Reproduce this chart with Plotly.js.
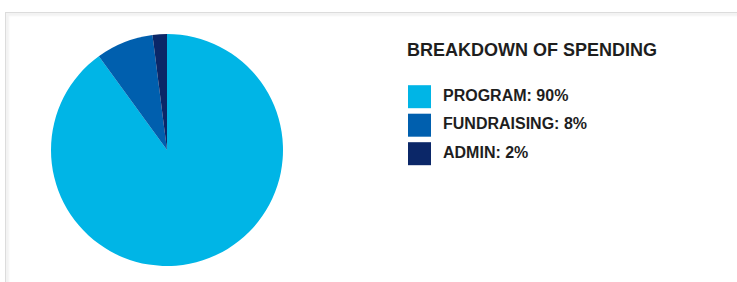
<!DOCTYPE html>
<html>
<head>
<meta charset="utf-8">
<script src="https://cdn.plot.ly/plotly-3.0.1.min.js"></script>
<style>
  html, body { margin: 0; padding: 0; background: #fff; }
  #wrap { position: relative; width: 737px; height: 282px; overflow: hidden; }
  #card { position: absolute; left: 5px; top: 12px; width: 760px; height: 300px;
          border: 1px solid #dcdcdc; box-shadow: inset 3px 3px 2px #f3f3f3; }
  #chart { position: absolute; left: 0; top: 0; width: 737px; height: 282px; }
</style>
</head>
<body>
<div id="wrap">
  <div id="card"></div>
  <div id="chart"></div>
</div>
<script>
const categories = ["PROGRAM", "FUNDRAISING", "ADMIN"];
const percents = [90, 8, 2];
const colors = ["#00b5e6", "#005fae", "#0b2768"];
const chartTitle = "BREAKDOWN OF SPENDING";

const labels = categories.map((c, i) => c + ": " + percents[i] + "%");
const idx = categories.map((c, i) => i);

const W = 737, H = 282;
const cx = 167, cy = 150, r = 116;

const pie = {
  type: "pie",
  values: percents,
  labels: categories,
  marker: { colors: colors, line: { width: 0 } },
  sort: false,
  direction: "clockwise",
  rotation: 0,
  textinfo: "none",
  hoverinfo: "label+percent",
  showlegend: false,
  domain: { x: [(cx - r) / W, (cx + r) / W], y: [(H - cy - r) / H, (H - cy + r) / H] }
};

const legendMarkers = {
  type: "scatter",
  mode: "markers",
  x: idx.map(() => 0),
  y: idx,
  xaxis: "x", yaxis: "y",
  cliponaxis: false,
  marker: { symbol: "square", size: 23, color: colors, line: { width: 0 } },
  hoverinfo: "skip",
  showlegend: false
};

const legendText = {
  type: "scatter",
  mode: "text",
  x: idx.map(() => 1),
  y: idx,
  xaxis: "x", yaxis: "y",
  cliponaxis: false,
  text: labels,
  textposition: "middle right",
  textfont: { family: "Liberation Sans, Arial, sans-serif", size: 16, color: "#1e1e1e", weight: 700 },
  hoverinfo: "skip",
  showlegend: false
};

const rowH = 28.5;
const firstY = 96.7;
const a = -firstY / rowH;
const b = a + H / rowH;

const x0 = 400, markerX = 419.5, unit = 23.5;
const xa = -(markerX - x0) / unit;
const xb = xa + (W - x0) / unit;

const layout = {
  width: W, height: H,
  margin: { l: 0, r: 0, t: 0, b: 0, pad: 0 },
  paper_bgcolor: "rgba(0,0,0,0)",
  plot_bgcolor: "rgba(0,0,0,0)",
  title: {
    text: "<b>" + chartTitle + "</b>",
    x: 407 / W, xanchor: "left", xref: "paper",
    y: 1 - 49.5 / H, yanchor: "middle", yref: "paper",
    font: { family: "Liberation Sans, Arial, sans-serif", size: 18, color: "#1e1e1e" }
  },
  xaxis: {
    domain: [x0 / W, 1], range: [xa, xb],
    visible: false, fixedrange: true
  },
  yaxis: {
    domain: [0, 1], range: [b, a],
    visible: false, fixedrange: true
  },
  showlegend: false
};

Plotly.newPlot("chart", [pie, legendMarkers, legendText], layout, { displayModeBar: false, staticPlot: true });
</script>
</body>
</html>
